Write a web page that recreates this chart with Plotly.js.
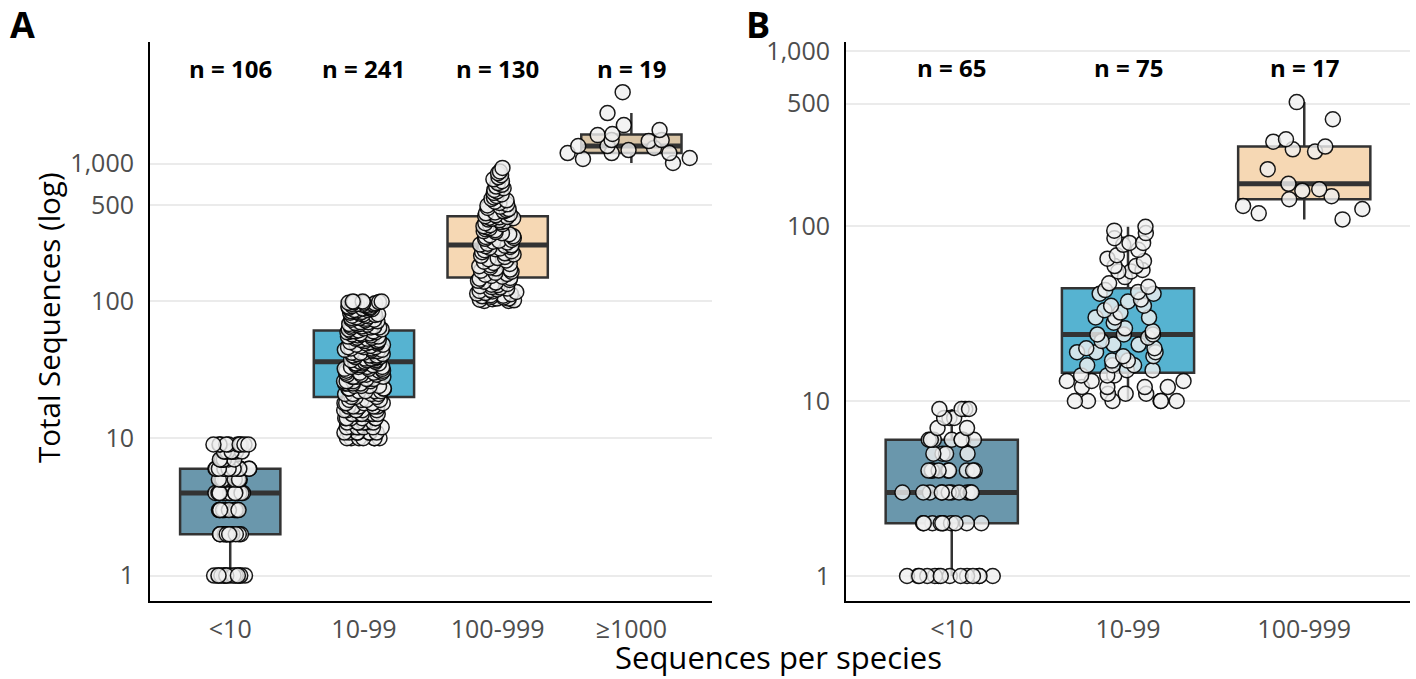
<!DOCTYPE html>
<html>
<head>
<meta charset="utf-8">
<script src="https://cdn.plot.ly/plotly-3.0.1.min.js"></script>
<style>html,body{margin:0;padding:0;background:#fff;}#chart{width:1416px;height:679px;}</style>
</head>
<body>
<div id="chart"></div>
<script>
// ---------- DATA ----------
const catsA = ['<10', '10-99', '100-999', '≥1000'];
const catsB = ['<10', '10-99', '100-999'];
const tickVals = [1, 10, 100, 500, 1000];
const tickText = ['1', '10', '100', '500', '1,000'];

// Panel A samples (total sequences per species)
const aLt10 = [1,1,1,1,1,1,1,1,1,1,1,1,1,1,
  2,2,2,2,2,2,2,2,2,2,2,2,2,2,
  3,3,3,3,3,3,3,3,3,3,3,3,
  4,4,4,4,4,4,4,4,4,4,4,4,4,4,4,4,
  5,5,5,5,5,5,5,5,5,5,
  6,6,6,6,6,6,6,6,6,6,6,6,6,6,
  7,7,7,7,7,7,7,7,
  8,8,8,8,8,8,8,8,
  9,9,9,9,9,9,9,9,9,9];
const a10to99 = [10,10,10,10,10,10,10,11,11,11,11,11,11,11,12,12,12,12,12,12,12,13,13,13,13,13,13,
  14,14,14,14,14,14,15,15,15,15,15,15,16,16,16,16,16,16,17,17,17,17,17,18,18,18,18,18,18,19,19,19,19,
  20,20,20,21,21,21,21,22,22,22,22,23,23,23,23,24,24,24,24,25,25,25,25,26,26,26,26,26,27,27,27,
  28,28,28,28,29,29,29,29,30,30,30,30,31,31,31,32,32,32,33,33,33,33,34,34,34,35,35,35,35,
  36,36,36,37,37,37,38,38,38,39,39,39,40,40,40,41,41,42,42,42,43,43,44,44,44,45,45,46,46,46,
  47,47,48,48,49,49,50,50,50,51,51,52,52,53,53,54,54,55,55,56,56,57,57,58,58,59,59,60,60,60,
  61,62,62,63,64,64,65,65,66,67,67,68,69,70,70,71,72,73,73,74,75,76,77,78,78,79,80,81,82,83,
  83,84,85,86,87,88,88,89,90,91,92,92,93,94,95,95,96,97,97,98,98,99,99,99,64,68,75,80,86,90,94];
const a100to999 = [100,100,101,102,103,104,104,106,107,108,109,110,112,113,114,116,117,118,120,121,
  123,125,126,128,130,131,133,136,138,140,142,145,147,
  150,152,155,157,160,163,166,169,172,175,179,182,186,189,193,197,201,205,209,213,218,222,226,230,
  234,238,241,244,247,250,252,254,
  257,261,266,270,274,278,283,287,292,296,301,306,311,317,322,327,333,338,344,350,356,362,368,374,
  380,386,391,396,400,403,406,409,
  414,420,427,434,441,449,457,466,475,485,495,505,516,528,540,553,566,580,595,610,626,643,661,680,
  700,721,744,768,794,822,850,875,930];
const aGe1000 = [1009,1080,1097,1192,1192,1192,1254,1300,1341,1341,1458,1482,1482,1611,1640,1753,1905,2330,3310];

// Panel B samples
const bLt10 = [1,1,1,1,1,1,1,1,1,1,1,1,1,1,
  2,2,2,2,2,2,2,2,2,2,
  3,3,3,3,3,3,3,3,3,3,3,
  4,4,4,4,4,4,4,4,4,
  5,5,5,5,
  6,6,6,6,6,6,6,6,
  7,7,
  8,8,8,
  9,9,9,9];
const b10to99 = [99,94,91,80,73,80,78,68,63,59,56,55,51,59,55,47,41,41,42,43,37,35,38,35,32,
  30,30,30,28,24,24,24,25,21,22,20,20,21,19,17,19,19,16,16,18,17,14,14,14,15,15,12,12,12,13,13,
  10,10,10,10,10,11,11,10,11,12,13,16,18,23,26,33,45,65,85];
const b100to999 = [510,407,313,284,303,266,274,211,174,159,162,148,142,125,118,130,109];

// colours per category
const fillColors = {'<10':'#6A97AC', '10-99':'#56B3D1', '100-999':'#F6D8B4', '≥1000':'#D9C4A5'};

const panelA = [aLt10, a10to99, a100to999, aGe1000];
const panelB = [bLt10, b10to99, b100to999];
// jitter spread per category (width of the invisible point carrier, jitter amount)
const spreadA = [[0.75, 0.38], [0.75, 0.4], [0.75, 0.42], [1.2, 1.0]];
const spreadB = [[0.75, 0.8], [0.75, 0.95], [0.85, 1.0]];

// ---------- STATS (computed on log scale, as ggplot does with log10 scale) ----------
function q7(a, p) {
  const h = (a.length - 1) * p, lo = Math.floor(h);
  if (lo + 1 >= a.length) return a[lo];
  return a[lo] + (h - lo) * (a[lo + 1] - a[lo]);
}
function stats(vals) {
  const lg = vals.map(v => Math.log10(v)).sort((x, y) => x - y);
  const q1 = q7(lg, 0.25), med = q7(lg, 0.5), q3 = q7(lg, 0.75);
  const iqr = q3 - q1;
  const inside = lg.filter(v => v >= q1 - 1.5 * iqr && v <= q3 + 1.5 * iqr);
  return {
    q1: Math.pow(10, q1), median: Math.pow(10, med), q3: Math.pow(10, q3),
    lo: Math.pow(10, Math.min(...inside)), hi: Math.pow(10, Math.max(...inside))
  };
}

const traces = [];
function addPanel(cats, samples, spreads, xa, ya) {
  cats.forEach((c, i) => {
    const s = stats(samples[i]);
    traces.push({
      type: 'box', x: [c], q1: [s.q1], median: [s.median], q3: [s.q3],
      lowerfence: [s.lo], upperfence: [s.hi], xaxis: xa, yaxis: ya,
      width: 0.75, whiskerwidth: 0, boxpoints: false,
      fillcolor: fillColors[c], line: {color: '#333333', width: 2.5},
      hoverinfo: 'skip', showlegend: false
    });
    traces.push({
      type: 'box', x: [c], q1: [s.median], median: [s.median], q3: [s.median],
      lowerfence: [s.median], upperfence: [s.median], xaxis: xa, yaxis: ya,
      width: 0.75, whiskerwidth: 0, boxpoints: false,
      fillcolor: 'rgba(0,0,0,0)', line: {color: '#333333', width: 5},
      hoverinfo: 'skip', showlegend: false
    });
    traces.push({
      type: 'box', y: samples[i], x: samples[i].map(() => c), xaxis: xa, yaxis: ya,
      width: spreads[i][0], boxpoints: 'all', jitter: spreads[i][1], pointpos: 0,
      fillcolor: 'rgba(0,0,0,0)', line: {color: 'rgba(0,0,0,0)', width: 0},
      marker: {size: 15, color: 'rgba(240,240,240,0.8)', line: {color: 'rgba(0,0,0,0.9)', width: 1.5}},
      showlegend: false
    });
  });
}
addPanel(catsA, panelA, spreadA, 'x', 'y');
addPanel(catsB, panelB, spreadB, 'x2', 'y2');

// ---------- LAYOUT ----------
const W = 1416, H = 679;
const FAM = 'Open Sans, Noto Sans, sans-serif';
const tickFont = {family: FAM, size: 25, color: '#4D4D4D'};
const yDom = [(H - 601) / H, (H - 42) / H];
function xAx(dom, cats, anchor) {
  return {domain: dom, anchor: anchor, type: 'category', categoryorder: 'array', categoryarray: cats,
    range: [-0.6, cats.length - 0.4], showline: true, linecolor: 'black', linewidth: 2,
    ticks: 'outside', ticklen: 5, tickcolor: 'rgba(0,0,0,0)', showgrid: false, zeroline: false,
    tickfont: tickFont, fixedrange: true};
}
function yAx(range, anchor) {
  return {domain: yDom, anchor: anchor, type: 'log', range: range, tickmode: 'array',
    tickvals: tickVals, ticktext: tickText, showline: true, linecolor: 'black', linewidth: 2,
    ticks: 'outside', ticklen: 9, tickcolor: 'rgba(0,0,0,0)', showgrid: true, gridcolor: '#EBEBEB',
    gridwidth: 2, zeroline: false, tickfont: tickFont, fixedrange: true};
}

const annotations = [];
const nFont = {family: FAM, size: 24, color: 'black', weight: 700};
catsA.forEach((c, i) => annotations.push({xref: 'x', yref: 'y', x: c, y: Math.log10(4950),
  text: 'n = ' + panelA[i].length, showarrow: false, xanchor: 'center', yanchor: 'middle', font: nFont}));
catsB.forEach((c, i) => annotations.push({xref: 'x2', yref: 'y2', x: c, y: Math.log10(800),
  text: 'n = ' + panelB[i].length, showarrow: false, xanchor: 'center', yanchor: 'middle', font: nFont}));
const letterFont = {family: FAM, size: 36, color: 'black', weight: 700};
annotations.push({xref: 'paper', yref: 'paper', x: 22 / W, y: 1 - 25 / H, text: 'A', showarrow: false,
  xanchor: 'center', yanchor: 'middle', font: letterFont});
annotations.push({xref: 'paper', yref: 'paper', x: 758 / W, y: 1 - 25 / H, text: 'B', showarrow: false,
  xanchor: 'center', yanchor: 'middle', font: letterFont});
annotations.push({xref: 'paper', yref: 'paper', x: 778 / W, y: 1 - 657 / H, text: 'Sequences per species',
  showarrow: false, xanchor: 'center', yanchor: 'middle', font: {family: FAM, size: 31, color: 'black'}});
annotations.push({xref: 'paper', yref: 'paper', x: 48 / W, y: 1 - 318 / H, text: 'Total Sequences (log)',
  showarrow: false, textangle: -90, xanchor: 'center', yanchor: 'middle', font: {family: FAM, size: 29.5, color: 'black'}});

const layout = {
  width: W, height: H, margin: {l: 0, r: 0, t: 0, b: 0},
  paper_bgcolor: 'white', plot_bgcolor: 'white', boxmode: 'overlay', showlegend: false,
  xaxis: xAx([150 / W, 711.6 / W], catsA, 'y'),
  yaxis: yAx([-0.185, 3.885], 'x'),
  xaxis2: xAx([846 / W, 1410 / W], catsB, 'y2'),
  yaxis2: yAx([-0.143, 3.051], 'x2'),
  annotations: annotations
};

Plotly.newPlot('chart', traces, layout, {displayModeBar: false, staticPlot: true});
</script>
</body>
</html>
